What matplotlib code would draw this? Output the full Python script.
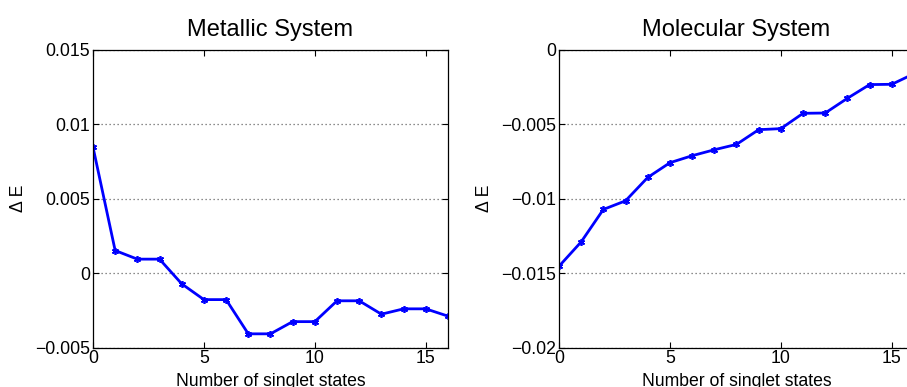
import matplotlib
matplotlib.use("Agg")
import matplotlib.pyplot as plt

plt.rcParams['font.family'] = ['Liberation Sans', 'DejaVu Sans']

# number of singlet states on the x axis
states = list(range(17))

# energy differences
metallic = [0.00848, 0.00152, 0.00094, 0.00094, -0.00072, -0.00178, -0.00178,
            -0.00408, -0.00408, -0.00326, -0.00326, -0.00186, -0.00186,
            -0.00276, -0.00240, -0.00240, -0.00289]
molecular = [-0.01454, -0.01290, -0.01072, -0.01014, -0.00857, -0.00758,
             -0.00711, -0.00671, -0.00635, -0.00536, -0.00529, -0.00426,
             -0.00424, -0.00325, -0.00233, -0.00231, -0.00160]

titles = ['Metallic System', 'Molecular System']
yticks_left = [-0.005, 0, 0.005, 0.01, 0.015]
ylabels_left = ['\u22120.005', '0', '0.005', '0.01', '0.015']
yticks_right = [-0.02, -0.015, -0.01, -0.005, 0]
ylabels_right = ['\u22120.02', '\u22120.015', '\u22120.01', '\u22120.005', '0']
xticks = [0, 5, 10, 15]

fig = plt.figure(figsize=(9.07, 3.87), dpi=100)
ax1 = fig.add_axes([0.1025, 0.102, 0.3914, 0.769])
ax2 = fig.add_axes([0.6163, 0.102, 0.3914, 0.769])

panels = [(ax1, metallic, yticks_left, ylabels_left),
          (ax2, molecular, yticks_right, ylabels_right)]

for i, (ax, vals, yt, yl) in enumerate(panels):
    ax.plot(states, vals, color='#0000ff', lw=2, marker=(6, 2, 0),
            markersize=5, markeredgewidth=1.2)
    ax.set_xlim(0, 16)
    ax.set_ylim(yt[0], yt[-1])
    ax.set_xticks(xticks)
    ax.set_xticklabels([str(t) for t in xticks])
    ax.set_yticks(yt)
    ax.set_yticklabels(yl)
    ax.tick_params(direction='in', length=4, width=0.8, labelsize=12.7,
                   top=True, right=True, pad=2)
    ax.yaxis.grid(True, linestyle=(0, (1, 2.2)), color='#666666', lw=0.9)
    ax.set_axisbelow(True)
    for s in ax.spines.values():
        s.set_linewidth(0.9)
    ax.set_title(titles[i], fontsize=17, pad=10)
    ax.set_xlabel('Number of singlet states', fontsize=12.7)
    ax.set_ylabel('\u0394 E', fontsize=12.7)
    ax.xaxis.set_label_coords(0.5, -0.085)
    ax.yaxis.set_label_coords(-0.185, 0.5)

plt.savefig('out.png', dpi=100)
